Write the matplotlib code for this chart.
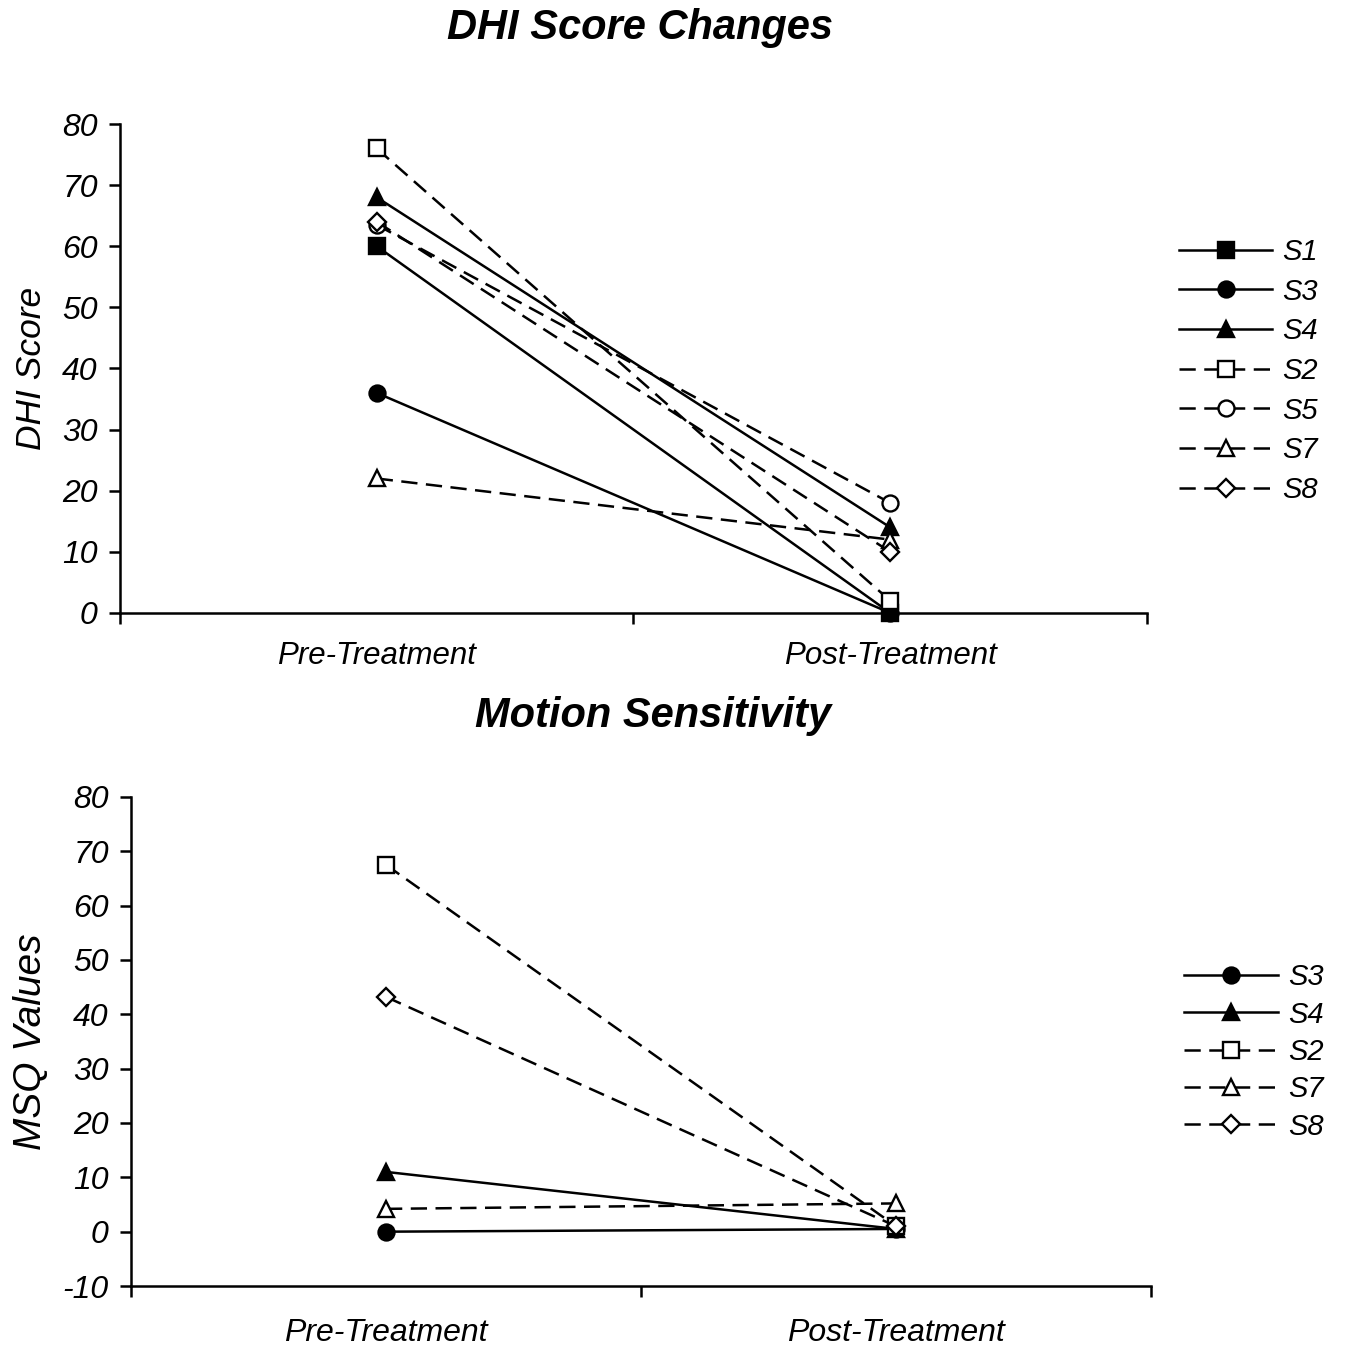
import matplotlib
matplotlib.use("Agg")
import matplotlib.pyplot as plt

plt.rcParams['font.family'] = ['Liberation Sans', 'DejaVu Sans']

categories = ["Pre-Treatment", "Post-Treatment"]

# DHI scores (pre, post)
dhi_subjects = ["S1", "S3", "S4", "S2", "S5", "S7", "S8"]
dhi_pre = [60, 36, 68, 76, 63.5, 22, 64]
dhi_post = [0, 0, 14, 2, 18, 12, 10]

# MSQ values (pre, post)
msq_subjects = ["S3", "S4", "S2", "S7", "S8"]
msq_pre = [0, 11, 67.5, 4.2, 43.2]
msq_post = [0.5, 0.5, 1, 5.2, 1]

DASH = (0, (6.5, 3.4))
styles = {
    "S1": dict(marker="s", ls="-", mfc="black"),
    "S3": dict(marker="o", ls="-", mfc="black"),
    "S4": dict(marker="^", ls="-", mfc="black"),
    "S2": dict(marker="s", ls=DASH, mfc="white"),
    "S5": dict(marker="o", ls=DASH, mfc="white"),
    "S7": dict(marker="^", ls=DASH, mfc="white"),
    "S8": dict(marker="D", ls=DASH, mfc="white"),
}

fig = plt.figure(figsize=(13.45, 13.51), dpi=100)

def draw(ax, subjects, pre, post, ylim, yticks, ylabel, title, title_xy,
         leg_anchor, leg_spacing, ylabel_size, xlabel_size, xlabel_pad):
    xs = [0.5, 1.5]
    handles = []
    for s, a, b in zip(subjects, pre, post):
        st = styles[s]
        ms = 9 if st["marker"] == "D" else 11.5
        ln, = ax.plot(xs, [a, b], color="black", lw=1.8, linestyle=st["ls"],
                      marker=st["marker"], markersize=ms, markerfacecolor=st["mfc"],
                      markeredgecolor="black", markeredgewidth=1.7, label=s, clip_on=False)
        handles.append(ln)
    ax.set_xlim(0, 2)
    ax.set_ylim(*ylim)
    ax.set_yticks(yticks)
    ax.set_yticklabels([str(v) for v in yticks], fontsize=23, style="italic")
    ax.set_xticks([0, 1, 2])
    ax.set_xticklabels([])
    ax.set_xticks(xs, minor=True)
    ax.set_xticklabels(categories, minor=True, fontsize=xlabel_size, style="italic")
    ax.tick_params(axis="x", which="minor", length=0, pad=xlabel_pad)
    ax.tick_params(axis="x", which="major", direction="out", length=8, width=1.8)
    ax.tick_params(axis="y", direction="out", length=8, width=1.8, pad=8)
    for sp in ["top", "right"]:
        ax.spines[sp].set_visible(False)
    for sp in ["left", "bottom"]:
        ax.spines[sp].set_linewidth(1.8)
    ax.set_ylabel(ylabel, fontsize=ylabel_size, style="italic", labelpad=10)
    fig.text(title_xy[0], title_xy[1], title, fontsize=30, fontweight="bold", style="italic",
             ha="center", va="center")
    fig.legend(handles=handles, loc="center left", bbox_to_anchor=leg_anchor,
               frameon=False, handlelength=3.2,
               labelspacing=leg_spacing, handletextpad=0.35,
               prop=dict(family="Liberation Sans", style="italic", size=21))
    return ax

ax1 = fig.add_axes([0.0892, 0.5463, 0.7636, 0.3619])
draw(ax1, dhi_subjects, dhi_pre, dhi_post, (0, 80), list(range(0, 81, 10)),
     "DHI Score", "DHI Score Changes", (640 / 1345, 1 - 28 / 1351),
     (0.857, 1 - 371 / 1351), 0.4, 25.5, 22.5, 20)

ax2 = fig.add_axes([0.0974, 0.0481, 0.7584, 0.3620])
draw(ax2, msq_subjects, msq_pre, msq_post, (-10, 80), list(range(-10, 81, 10)),
     "MSQ Values", "Motion Sensitivity", (653 / 1345, 1 - 716 / 1351),
     (0.861, 1 - 1052 / 1351), 0.32, 28, 23, 23)

fig.savefig("out.png", dpi=100, facecolor="white")
